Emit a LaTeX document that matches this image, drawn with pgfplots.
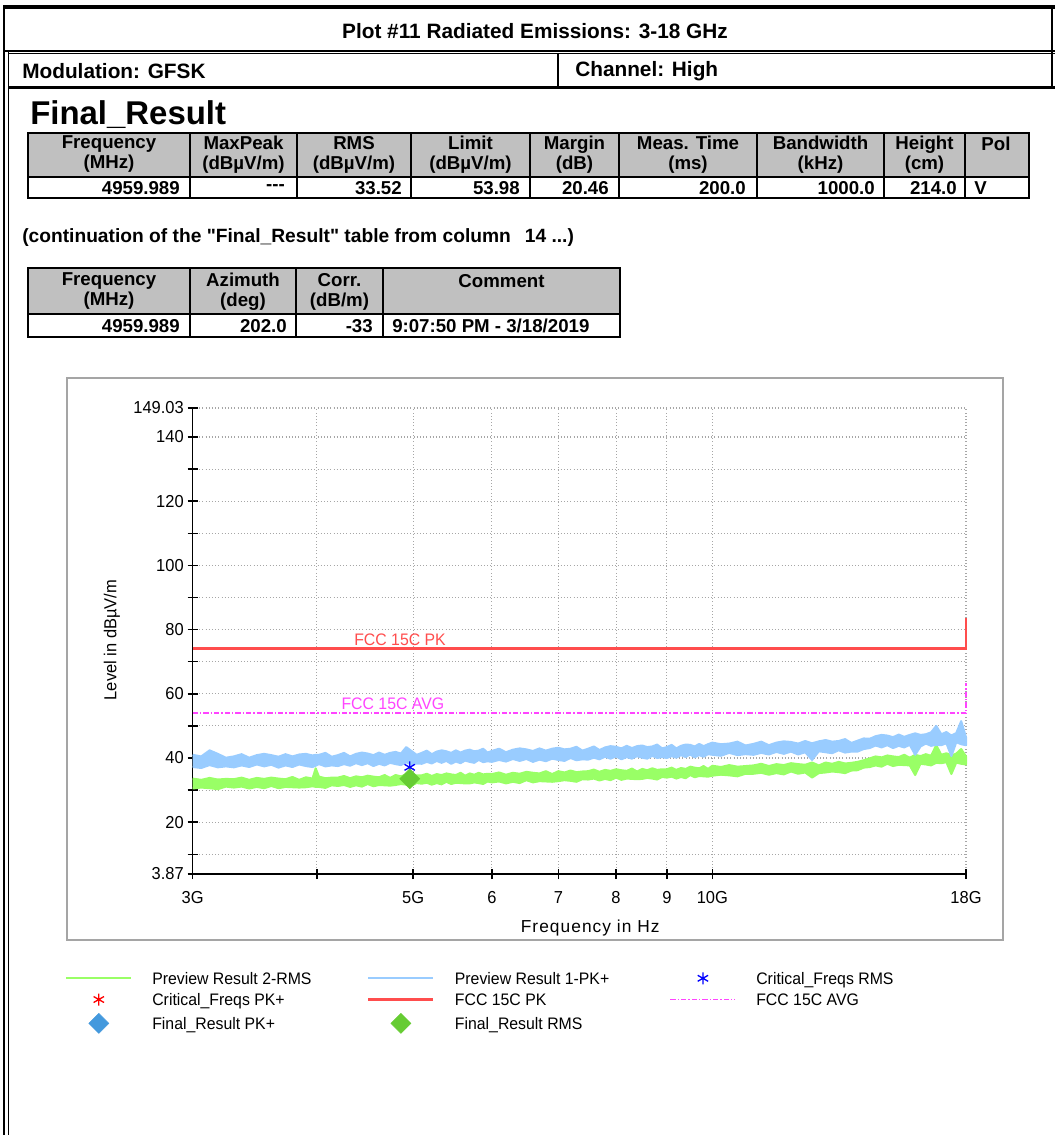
\documentclass[border=0pt]{standalone}
\usepackage{fontspec}
\setmainfont{Liberation Sans}
\newfontfamily\plotfont{Liberation Sans}[FakeStretch=0.95]
\newfontfamily\spacedfont{Liberation Sans}[LetterSpace=6]
\newfontfamily\plainfont{Liberation Sans}
\usepackage{pgfplots}
\pgfplotsset{compat=1.18}
\usepackage{pgfplotstable}

\definecolor{pkblue}{RGB}{153,204,255}
\definecolor{rmsgreen}{RGB}{153,255,102}
\definecolor{limred}{RGB}{255,77,77}
\definecolor{avgmag}{RGB}{255,68,255}
\definecolor{frgreen}{RGB}{102,204,51}
\definecolor{frblue}{RGB}{68,153,221}
\definecolor{hdrgray}{RGB}{192,192,192}
\definecolor{framegray}{RGB}{165,165,165}

\newcommand\hdr{\fontsize{15.6}{18}\selectfont\bfseries}
\newcommand\tbl{\fontsize{14}{15}\selectfont\bfseries}
\newcommand\lgtext[1]{\hspace*{15pt}\makebox[161pt][l]{#1}}

\pgfplotsset{
  linelegend/.style={legend image code/.code={\draw[##1, fill=none] (0pt,0pt) -- (48.75pt,0pt);}},
  marklegend/.style={legend image code/.code={%
      \path[draw=none, fill=none] (0pt,0pt) -- (48.75pt,0pt);
      \draw[##1] plot coordinates {(24.375pt,0pt)};}},
}

% Preview Result 1 (PK+): envelope of the sweep, upper edge rising in
% frequency, then lower edge back down (frequency in GHz, dBuV/m)
\pgfplotstableread{
f y
3.00 41.0
3.06 40.5
3.12 42.4
3.18 41.3
3.24 40.1
3.30 40.5
3.36 41.2
3.42 40.1
3.48 40.9
3.54 41.3
3.60 40.9
3.66 40.4
3.72 41.2
3.78 40.5
3.84 41.1
3.90 41.3
3.96 40.8
3.99 41.0
4.02 41.0
4.08 41.6
4.14 40.4
4.20 40.9
4.26 41.6
4.32 40.5
4.38 41.3
4.44 41.7
4.50 41.4
4.56 40.9
4.62 41.7
4.68 41.0
4.74 41.6
4.80 41.9
4.86 41.4
4.92 43.4
4.98 42.2
5.04 41.0
5.10 41.6
5.16 42.3
5.22 41.2
5.28 42.0
5.34 42.4
5.40 42.1
5.46 41.6
5.52 42.4
5.58 41.7
5.64 42.3
5.70 42.6
5.76 42.1
5.82 42.3
5.88 42.9
5.94 41.7
6.00 42.2
6.10 42.9
6.20 41.8
6.30 42.6
6.40 43.0
6.50 42.7
6.60 42.2
6.70 43.0
6.80 42.3
6.90 42.9
7.00 43.2
7.10 42.7
7.20 42.9
7.30 43.5
7.40 42.3
7.50 42.9
7.60 43.6
7.70 42.5
7.80 43.3
7.90 43.7
8.00 43.5
8.10 43.0
8.20 43.8
8.30 43.1
8.40 43.7
8.50 43.9
8.60 43.4
8.70 43.6
8.80 44.2
8.90 43.0
9.00 43.4
9.10 44.1
9.20 43.0
9.30 43.8
9.40 44.2
9.50 44.1
9.60 43.6
9.70 44.4
9.80 43.7
9.90 44.3
10.0 44.8
10.2 44.3
10.4 44.5
10.6 45.1
10.8 43.9
11.0 44.4
11.2 45.1
11.4 44.0
11.6 44.8
11.8 45.2
12.0 45.0
12.2 44.5
12.4 45.3
12.6 44.6
12.8 45.2
13.0 45.6
13.2 45.1
13.4 45.3
13.6 45.9
13.8 44.7
14.0 45.4
14.2 46.1
14.4 46.0
14.6 46.8
14.8 47.2
15.0 47.0
15.2 46.5
15.4 47.3
15.6 46.6
15.8 47.2
16.0 47.7
16.2 47.2
16.4 47.4
16.6 48.0
16.8 50.0
17.0 47.4
17.2 48.1
17.4 47.0
17.6 47.8
17.8 51.5
18.0 46.5
18.0 44.0
17.8 44.3
17.6 44.9
17.4 40.6
17.2 44.6
17.0 44.0
16.8 44.1
16.6 43.8
16.4 44.5
16.2 43.6
16.0 41.0
15.8 44.1
15.6 43.3
15.4 43.8
15.2 43.1
15.0 44.0
14.8 43.3
14.6 43.9
14.4 43.1
14.2 42.8
14.0 42.0
13.8 42.0
13.6 41.7
13.4 42.4
13.2 41.5
13.0 41.8
12.8 42.1
12.6 39.4
12.4 41.8
12.2 41.1
12.0 42.0
11.8 41.3
11.6 41.9
11.4 41.1
11.2 41.6
11.0 41.0
10.8 41.2
10.6 40.9
10.4 41.6
10.2 40.7
10.0 41.0
9.90 41.2
9.80 40.4
9.70 40.9
9.60 40.2
9.50 41.1
9.40 40.3
9.30 40.9
9.20 40.1
9.10 40.6
9.00 40.0
8.90 40.3
8.80 40.0
8.70 40.7
8.60 39.8
8.50 40.1
8.40 40.6
8.30 39.8
8.20 40.3
8.10 39.6
8.00 40.5
7.90 39.8
7.80 40.4
7.70 39.6
7.60 40.1
7.50 39.5
7.40 39.6
7.30 39.3
7.20 40.0
7.10 39.1
7.00 39.4
6.90 39.8
6.80 39.0
6.70 39.5
6.60 38.8
6.50 39.7
6.40 39.1
6.30 39.7
6.20 38.9
6.10 39.4
6.00 38.8
5.94 39.0
5.88 38.7
5.82 39.4
5.76 38.5
5.70 38.8
5.64 39.2
5.58 38.4
5.52 38.9
5.46 38.2
5.40 39.1
5.34 38.5
5.28 39.1
5.22 38.3
5.16 38.8
5.10 38.2
5.04 38.3
4.98 38.0
4.92 38.7
4.86 37.8
4.80 38.1
4.74 38.5
4.68 37.7
4.62 38.2
4.56 37.5
4.50 38.4
4.44 37.8
4.38 38.4
4.32 37.6
4.26 38.1
4.20 37.5
4.14 37.7
4.08 37.4
4.02 38.1
3.99 37.6
3.96 37.2
3.90 37.5
3.84 38.0
3.78 37.2
3.72 37.7
3.66 37.0
3.60 37.9
3.54 37.4
3.48 38.0
3.42 37.2
3.36 37.7
3.30 37.1
3.24 37.4
3.18 37.1
3.12 37.8
3.06 36.9
3.00 37.2
}\pkband

% Preview Result 2 (RMS): same layout
\pgfplotstableread{
f y
3.00 33.6
3.06 33.2
3.12 33.8
3.18 33.3
3.24 33.5
3.30 33.4
3.36 33.9
3.42 33.2
3.48 33.8
3.54 33.5
3.60 33.9
3.66 33.6
3.72 33.4
3.78 34.1
3.84 33.2
3.90 34.0
3.96 33.6
3.99 36.8
4.02 34.2
4.08 33.7
4.14 33.9
4.20 33.9
4.26 34.4
4.32 33.7
4.38 34.3
4.44 34.0
4.50 34.5
4.56 34.2
4.62 34.0
4.68 34.7
4.74 33.8
4.80 34.7
4.86 34.3
4.92 34.9
4.98 34.4
5.04 34.6
5.10 34.6
5.16 35.1
5.22 34.4
5.28 35.0
5.34 34.7
5.40 35.2
5.46 34.9
5.52 34.7
5.58 35.4
5.64 34.5
5.70 35.2
5.76 34.8
5.82 35.4
5.88 34.9
5.94 35.1
6.00 35.0
6.10 35.5
6.20 34.8
6.30 35.4
6.40 35.1
6.50 35.7
6.60 35.4
6.70 35.2
6.80 35.9
6.90 35.0
7.00 35.9
7.10 35.5
7.20 36.1
7.30 35.6
7.40 35.8
7.50 35.9
7.60 36.4
7.70 35.7
7.80 36.3
7.90 36.0
8.00 36.5
8.10 36.2
8.20 36.0
8.30 36.7
8.40 35.8
8.50 36.6
8.60 36.2
8.70 36.8
8.80 36.3
8.90 36.5
9.00 36.5
9.10 37.0
9.20 36.3
9.30 36.9
9.40 36.6
9.50 37.3
9.60 37.0
9.70 36.8
9.80 37.5
9.90 36.6
10.0 37.6
10.2 37.2
10.4 37.8
10.6 37.3
10.8 37.5
11.0 37.7
11.2 38.2
11.4 37.5
11.6 38.1
11.8 37.8
12.0 38.4
12.2 38.1
12.4 37.9
12.6 38.6
12.8 37.7
13.0 38.6
13.2 38.2
13.4 38.8
13.6 38.3
13.8 38.5
14.0 38.8
14.2 39.3
14.4 39.9
14.6 40.5
14.8 40.2
15.0 40.8
15.2 40.5
15.4 40.3
15.6 41.0
15.8 40.1
16.0 41.0
16.2 40.6
16.4 41.2
16.6 40.7
16.8 44.0
17.0 41.0
17.2 41.5
17.4 40.8
17.6 41.4
17.8 42.8
18.0 40.5
18.0 38.0
17.8 38.2
17.6 38.6
17.4 35.0
17.2 38.7
17.0 38.4
16.8 38.5
16.6 37.7
16.4 38.0
16.2 38.2
16.0 34.7
15.8 37.7
15.6 37.8
15.4 37.9
15.2 37.5
15.0 38.2
14.8 37.3
14.6 37.7
14.4 37.2
14.2 37.0
14.0 36.2
13.8 36.1
13.6 35.3
13.4 35.6
13.2 35.8
13.0 35.5
12.8 35.3
12.6 33.9
12.4 35.5
12.2 35.1
12.0 35.8
11.8 34.9
11.6 35.3
11.4 34.8
11.2 35.4
11.0 35.1
10.8 35.1
10.6 34.3
10.4 34.6
10.2 34.8
10.0 34.5
9.90 34.2
9.80 34.3
9.70 34.4
9.60 34.0
9.50 34.7
9.40 33.7
9.30 34.1
9.20 33.6
9.10 34.2
9.00 33.9
8.90 34.1
8.80 33.3
8.70 33.6
8.60 33.8
8.50 33.5
8.40 33.4
8.30 33.5
8.20 33.6
8.10 33.2
8.00 33.9
7.90 33.1
7.80 33.5
7.70 33.0
7.60 33.6
7.50 33.3
7.40 33.4
7.30 32.6
7.20 32.9
7.10 33.1
7.00 32.8
6.90 32.6
6.80 32.7
6.70 32.8
6.60 32.4
6.50 33.1
6.40 32.2
6.30 32.6
6.20 32.1
6.10 32.7
6.00 32.4
5.94 32.7
5.88 31.9
5.82 32.2
5.76 32.4
5.70 32.1
5.64 32.1
5.58 32.2
5.52 32.3
5.46 31.9
5.40 32.6
5.34 31.8
5.28 32.2
5.22 31.7
5.16 32.3
5.10 32.0
5.04 32.2
4.98 31.4
4.92 31.7
4.86 31.9
4.80 31.6
4.74 31.4
4.68 31.5
4.62 31.6
4.56 31.2
4.50 31.9
4.44 31.1
4.38 31.5
4.32 31.0
4.26 31.6
4.20 31.3
4.14 31.5
4.08 30.7
4.02 31.0
3.99 31.0
3.96 31.2
3.90 30.9
3.84 30.8
3.78 30.9
3.72 31.0
3.66 30.6
3.60 31.3
3.54 30.6
3.48 31.0
3.42 30.5
3.36 31.1
3.30 30.8
3.24 31.1
3.18 30.3
3.12 30.6
3.06 30.8
3.00 30.5
}\rmsband

\begin{document}
\begin{tikzpicture}
\useasboundingbox (0pt,0pt) rectangle (791.25pt,-851.25pt);
\begin{scope}[x=0.75pt,y=-0.75pt]
  % page rules
  \draw[line width=1.6pt] (4,5) -- (4,1135);
  \draw[line width=1pt] (8.7,51) -- (8.7,1135);
  \draw[line width=2.6pt] (3,7) -- (1055,7);
  \draw[line width=1.1pt] (3,51) -- (1055,51);
  \draw[line width=1.1pt] (8.7,53.5) -- (1055,53.5);
  \draw[line width=2.4pt] (8.7,87.5) -- (1055,87.5);
  \draw[line width=1.6pt] (1052,5) -- (1052,89);
  \draw[line width=2pt] (558,53.5) -- (558,87.5);
  \node[font=\hdr] at (535,31) {Plot \#11 Radiated Emissions: 3-18 GHz};
  \node[font=\hdr, anchor=west, inner sep=0pt] at (22,71) {Modulation: GFSK};
  \node[font=\hdr, anchor=west, inner sep=0pt] at (575,71) {Channel: High};
  \node[font=\fontsize{24.7}{28}\selectfont\bfseries, anchor=base west, inner sep=0pt] at (30,124) {Final\_Result};

  % Final_Result table
  \fill[hdrgray] (28,133) rectangle (1029,177);
  \draw[line width=0.9pt] (28,133) rectangle (1029,198);
  \draw[line width=0.9pt] (28,177) -- (1029,177);
  \foreach \c in {190,297,411,530,619,757,884,965}
    \draw[line width=0.9pt] (\c,133) -- (\c,198);
  \begin{scope}[every node/.style={font=\tbl, align=center, inner sep=0pt}]
    \node at (109,154.5) {Frequency\\(MHz)};
    \node at (243.5,154.5) {MaxPeak\\(dBµV/m)};
    \node at (354,154.5) {RMS\\(dBµV/m)};
    \node at (470.5,154.5) {Limit\\(dBµV/m)};
    \node at (574.5,154.5) {Margin\\(dB)};
    \node at (688,154.5) {Meas. Time\\(ms)};
    \node at (820.5,154.5) {Bandwidth\\(kHz)};
    \node at (924.5,154.5) {Height\\(cm)};
    \node at (996,144) {Pol};
    \node[anchor=east] at (180,188) {4959.989};
    \node[anchor=east] at (285,188) {-{}-{}-};
    \node[anchor=east] at (402,188) {33.52};
    \node[anchor=east] at (520,188) {53.98};
    \node[anchor=east] at (609,188) {20.46};
    \node[anchor=east] at (746,188) {200.0};
    \node[anchor=east] at (875,188) {1000.0};
    \node[anchor=east] at (957,188) {214.0};
    \node[anchor=west] at (974,188) {V};
  \end{scope}

  \node[font=\fontsize{14.4}{16}\plainfont\bfseries, anchor=west, inner sep=0pt] at (22,238)
    {(continuation of the "Final\_Result" table from column\hspace{0.45em} 14 ...)};

  % continuation table
  \fill[hdrgray] (28,268) rectangle (620,314);
  \draw[line width=0.9pt] (28,268) rectangle (620,337);
  \draw[line width=0.9pt] (28,314) -- (620,314);
  \foreach \c in {190,296,383}
    \draw[line width=0.9pt] (\c,268) -- (\c,337);
  \begin{scope}[every node/.style={font=\tbl, align=center, inner sep=0pt}]
    \node at (109,291.5) {Frequency\\(MHz)};
    \node at (243,291.5) {Azimuth\\(deg)};
    \node at (339.5,291.5) {Corr.\\(dB/m)};
    \node at (501.5,281) {Comment};
    \node[anchor=east] at (180,326) {4959.989};
    \node[anchor=east] at (287,326) {202.0};
    \node[anchor=east] at (373,326) {-33};
    \node[anchor=west] at (392,326) {9:07:50 PM - 3/18/2019};
  \end{scope}

  % chart panel
  \draw[framegray, line width=1.2pt] (67,378) rectangle (1003,940);
\end{scope}

\begin{axis}[
  at={(144.525pt,-655.5pt)}, anchor=south west,
  scale only axis, width=579.975pt, height=349.5pt,
  clip=false,
  xmode=log, xmin=3, xmax=18,
  ymin=3.87, ymax=149.03,
  axis x line*=bottom, axis y line*=left,
  axis line style={-, black, line width=1.1pt},
  xtick={3,4,5,6,7,8,9,10,18},
  xticklabels={3G,,5G,6,7,8,9,10G,18G},
  ytick={3.87,10,20,30,40,50,60,70,80,90,100,110,120,130,140,149.03},
  yticklabels={3.87,,20,,40,,60,,80,,100,,120,,140,149.03},
  tick align=center, major tick length=7.5pt,
  tick style={black, line width=1.1pt},
  grid=major,
  major grid style={dotted, black!35, line width=0.8pt},
  ticklabel style={font=\fontsize{13}{15}\plotfont},
  xticklabel style={anchor=base, yshift=-18.5pt},
  yticklabel style={anchor=east, inner sep=0pt, xshift=-2.8pt},
  xlabel={Frequency in Hz},
  ylabel={Level in dBµV/m},
  label style={font=\fontsize{13}{15}\plotfont},
  xlabel style={at={(axis description cs:0.514,0)}, anchor=center, yshift=-40.5pt,
    font=\fontsize{13}{15}\spacedfont},
  ylabel style={at={(axis description cs:-0.1044,0.502)}, anchor=center},
  legend columns=3,
  legend cell align=left,
  legend style={at={(axis description cs:-0.1651,-0.2075)}, anchor=north west,
    draw=none, fill=none, inner sep=0pt, column sep=0pt, row sep=4.9pt,
    font=\fontsize{12.5}{14}\plotfont,
    nodes={inner sep=0pt, text height=10pt, text depth=1pt}},
]
\addplot[rmsgreen, fill=rmsgreen, line width=1.5pt, line join=round, linelegend]
  table[x=f, y=y] {\rmsband};
\addlegendentry{\lgtext{Preview Result 2-RMS}}
\addplot[pkblue, fill=pkblue, line width=1.5pt, line join=round, linelegend]
  table[x=f, y=y] {\pkband};
\addlegendentry{\lgtext{Preview Result 1-PK+}}
\addplot[only marks, mark=asterisk, blue, mark size=4.5pt, line width=1pt, marklegend]
  coordinates {(4.959989,37.1)};
\addlegendentry{\lgtext{Critical\_Freqs RMS}}
\addlegendimage{only marks, mark=asterisk, red, mark size=4.5pt, line width=1pt, marklegend}
\addlegendentry{\lgtext{Critical\_Freqs PK+}}
\addplot[limred, line width=2.2pt, linelegend] coordinates {(3,74) (18,74) (18,83.5)};
\addlegendentry{\lgtext{FCC 15C PK}}
\addplot[avgmag, line width=1.3pt, dash pattern=on 4pt off 1.5pt on 1pt off 1.5pt, linelegend]
  coordinates {(3,54) (18,54) (18,63.5)};
\addlegendentry{\lgtext{FCC 15C AVG}}
\addlegendimage{only marks, mark=square*, mark options={rotate=45}, frblue, mark size=5.3pt, marklegend}
\addlegendentry{\lgtext{Final\_Result PK+}}
\addplot[only marks, mark=square*, mark options={rotate=45}, frgreen, mark size=5.3pt, marklegend]
  coordinates {(4.959989,33.52)};
\addlegendentry{\lgtext{Final\_Result RMS}}
\node[limred, font=\fontsize{12.5}{14}\plotfont, anchor=south, inner sep=2pt] at (axis cs:4.85,74) {FCC 15C PK};
\node[avgmag, font=\fontsize{12.5}{14}\plotfont, anchor=south, inner sep=2pt] at (axis cs:4.77,54) {FCC 15C AVG};
\end{axis}
\end{tikzpicture}
\end{document}
